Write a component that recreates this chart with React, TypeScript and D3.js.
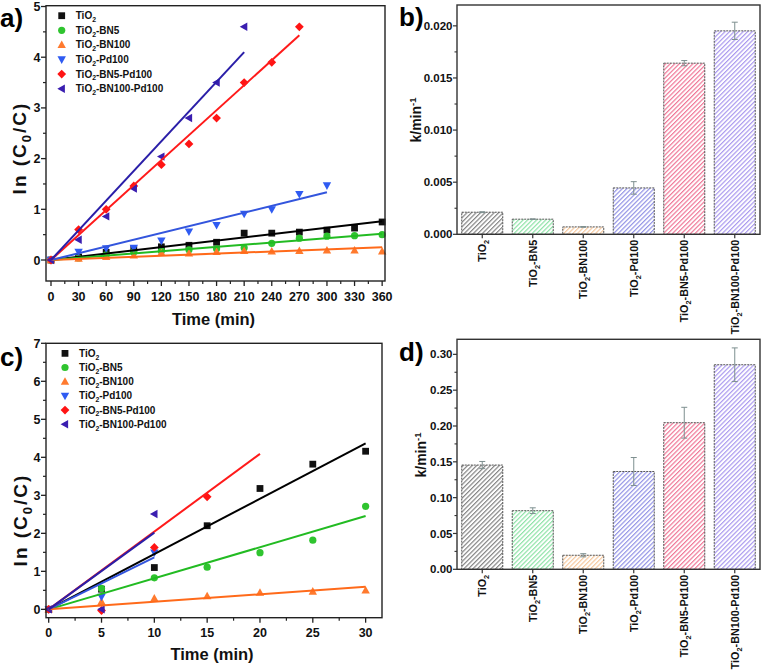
import React from 'react';
import * as d3 from 'd3';

const FONT = "'Liberation Sans', Arial, Helvetica, sans-serif";

// ---------- series ----------
const seriesNames = ['TiO2', 'TiO2-BN5', 'TiO2-BN100', 'TiO2-Pd100', 'TiO2-BN5-Pd100', 'TiO2-BN100-Pd100'];
const markerColors = ['#111111', '#2fc42f', '#ff7a2e', '#2f5bf2', '#ff1414', '#3a1eb0'];
const lineColors = ['#000000', '#22bb22', '#ff6a1a', '#3355dd', '#ff1a1a', '#2a1ea8'];
const markerShapes = ['square', 'circle', 'triUp', 'triDown', 'diamond', 'triLeft'];
const hatchColors = ['#858585', '#8fe3a8', '#f6c9a0', '#9494e6', '#f07898', '#ab9aef'];

// ---------- panel a (time in min) ----------
const a_t_TiO2 = [0, 30, 60, 90, 120, 150, 180, 210, 240, 270, 300, 330, 360];
const a_y_TiO2 = [0, 0.06, 0.15, 0.22, 0.26, 0.29, 0.35, 0.53, 0.53, 0.55, 0.59, 0.63, 0.75];
const a_t_BN5 = [0, 30, 60, 90, 120, 150, 180, 210, 240, 270, 300, 330, 360];
const a_y_BN5 = [0, 0.04, 0.1, 0.16, 0.18, 0.2, 0.22, 0.24, 0.33, 0.43, 0.47, 0.48, 0.5];
const a_t_BN100 = [0, 30, 60, 90, 120, 150, 180, 210, 240, 270, 300, 330, 360];
const a_y_BN100 = [0, 0.03, 0.06, 0.09, 0.14, 0.13, 0.16, 0.18, 0.17, 0.18, 0.19, 0.19, 0.17];
const a_t_Pd100 = [0, 30, 60, 90, 120, 150, 180, 210, 240, 270, 300];
const a_y_Pd100 = [0, 0.16, 0.23, 0.24, 0.38, 0.56, 0.69, 0.91, 1.0, 1.3, 1.47];
const a_t_BN5Pd100 = [0, 30, 60, 90, 120, 150, 180, 210, 240, 270];
const a_y_BN5Pd100 = [0, 0.6, 1.0, 1.46, 1.88, 2.29, 2.8, 3.5, 3.9, 4.6];
const a_t_BN100Pd100 = [0, 30, 60, 90, 120, 150, 180, 210];
const a_y_BN100Pd100 = [0, 0.4, 0.86, 1.41, 2.04, 2.8, 3.5, 4.6];
const a_fitEnd = [360, 360, 360, 300, 270, 210];
const a_slope = [0.00212, 0.00144, 0.0007, 0.00445, 0.01642, 0.01952];
const a_xTicks = [0, 30, 60, 90, 120, 150, 180, 210, 240, 270, 300, 330, 360];
const a_yTicks = [0, 1, 2, 3, 4, 5];

// ---------- panel c ----------
const c_t_TiO2 = [0, 5, 10, 15, 20, 25, 30];
const c_y_TiO2 = [0, 0.53, 1.1, 2.2, 3.18, 3.82, 4.16];
const c_t_BN5 = [0, 5, 10, 15, 20, 25, 30];
const c_y_BN5 = [0, 0.55, 0.83, 1.11, 1.49, 1.82, 2.71];
const c_t_BN100 = [0, 5, 10, 15, 20, 25, 30];
const c_y_BN100 = [0, 0.2, 0.29, 0.35, 0.44, 0.47, 0.5];
const c_t_Pd100 = [0, 5, 10];
const c_y_Pd100 = [0, 0.33, 1.49];
const c_t_BN5Pd100 = [0, 5, 10, 15];
const c_y_BN5Pd100 = [0, -0.03, 1.63, 2.96];
const c_t_BN100Pd100 = [0, 5, 10];
const c_y_BN100Pd100 = [0, 0.0, 2.51];
const c_fitEnd = [30, 30, 30, 10, 20, 10];
const c_slope = [0.1455, 0.0818, 0.0198, 0.1365, 0.2046, 0.202];
const c_xTicks = [0, 5, 10, 15, 20, 25, 30];
const c_yTicks = [0, 1, 2, 3, 4, 5, 6, 7];

// ---------- panel b / d ----------
const b_k = [0.00212, 0.00145, 0.00071, 0.00445, 0.01642, 0.01952];
const b_err = [0.00004, 0.00003, 0.00003, 0.0006, 0.00025, 0.00083];
const b_yTicks = [0, 0.005, 0.01, 0.015, 0.02];
const d_k = [0.1455, 0.0818, 0.0196, 0.1365, 0.2046, 0.2855];
const d_err = [0.005, 0.004, 0.0022, 0.0195, 0.0215, 0.0235];
const d_yTicks = [0, 0.05, 0.1, 0.15, 0.2, 0.25, 0.3];

const aSeries = [
  [a_t_TiO2, a_y_TiO2], [a_t_BN5, a_y_BN5], [a_t_BN100, a_y_BN100],
  [a_t_Pd100, a_y_Pd100], [a_t_BN5Pd100, a_y_BN5Pd100], [a_t_BN100Pd100, a_y_BN100Pd100],
];
const cSeries = [
  [c_t_TiO2, c_y_TiO2], [c_t_BN5, c_y_BN5], [c_t_BN100, c_y_BN100],
  [c_t_Pd100, c_y_Pd100], [c_t_BN5Pd100, c_y_BN5Pd100], [c_t_BN100Pd100, c_y_BN100Pd100],
];

function symbolPath(shape: string, x: number, y: number): string {
  switch (shape) {
    case 'square': { const s = 3.4; return `M${x - s},${y - s}h${2 * s}v${2 * s}h${-2 * s}Z`; }
    case 'triUp': { const s = 4.2; return `M${x},${y - s * 1.05}L${x + s},${y + s * 0.75}L${x - s},${y + s * 0.75}Z`; }
    case 'triDown': { const s = 4.2; return `M${x},${y + s * 1.05}L${x + s},${y - s * 0.75}L${x - s},${y - s * 0.75}Z`; }
    case 'diamond': { const s = 4.4; return `M${x},${y - s}L${x + s},${y}L${x},${y + s}L${x - s},${y}Z`; }
    case 'triLeft': { const s = 4.2; return `M${x - s * 1.05},${y}L${x + s * 0.75},${y - s}L${x + s * 0.75},${y + s}Z`; }
    default: return '';
  }
}

function Marker({ shape, x, y, color }: any) {
  if (shape === 'circle') return <circle cx={x} cy={y} r={3.6} fill={color} />;
  return <path d={symbolPath(shape, x, y)} fill={color} />;
}

function Tio2Label({ name, size }: any) {
  const rest = name.slice(4);
  return (
    <>
      <tspan>TiO</tspan>
      <tspan fontSize={size * 0.68} dy={size * 0.28}>2</tspan>
      <tspan dy={-size * 0.28}>{rest}</tspan>
    </>
  );
}

function midpoints(arr: number[]) {
  const out: number[] = [];
  for (let i = 0; i < arr.length - 1; i++) out.push((arr[i] + arr[i + 1]) / 2);
  return out;
}

function LinePanel({ cfg }: any) {
  const x = d3.scaleLinear().domain(cfg.xDomain).range([cfg.left, cfg.right]);
  const y = d3.scaleLinear().domain(cfg.yDomain).range([cfg.bottom, cfg.top]);
  const line = d3.line<[number, number]>().x(d => x(d[0])).y(d => y(d[1]));
  const xMinor = midpoints(cfg.xTicks);
  const yMinor = midpoints(cfg.yTicks).concat([cfg.yTicks[cfg.yTicks.length - 1] + 0.5]).filter(v => v <= cfg.yDomain[1]);
  const axisColor = '#222';
  return (
    <g>
      {cfg.series.map((s: any, i: number) => (
        <g key={'m' + i}>
          {s[0].map((t: number, j: number) => (
            <Marker key={j} shape={markerShapes[i]} x={x(t)} y={y(s[1][j])} color={markerColors[i]} />
          ))}
        </g>
      ))}
      {cfg.slopes.map((k: number, i: number) => (
        <path key={'l' + i} d={line([[0, 0], [cfg.fitEnd[i], k * cfg.fitEnd[i]]]) || ''} stroke={lineColors[i]} strokeWidth={2} fill="none" />
      ))}
      <rect x={cfg.left} y={cfg.top} width={cfg.right - cfg.left} height={cfg.bottom - cfg.top} fill="none" stroke={axisColor} strokeWidth={1.4} />
      {cfg.xTicks.map((t: number) => (
        <g key={'xt' + t}>
          <line x1={x(t)} x2={x(t)} y1={cfg.bottom} y2={cfg.bottom + 5} stroke={axisColor} strokeWidth={1.3} />
          <text x={x(t)} y={cfg.bottom + 19.5} textAnchor="middle" fontSize={12.5} fontWeight="bold" fontFamily={FONT} fill="#111">{t}</text>
        </g>
      ))}
      {xMinor.map((t: number) => (
        <line key={'xm' + t} x1={x(t)} x2={x(t)} y1={cfg.bottom} y2={cfg.bottom + 3} stroke={axisColor} strokeWidth={1.2} />
      ))}
      {cfg.yTicks.map((v: number) => (
        <g key={'yt' + v}>
          <line x1={cfg.left} x2={cfg.left - 5} y1={y(v)} y2={y(v)} stroke={axisColor} strokeWidth={1.3} />
          <text x={cfg.left - 5.5} y={y(v)} dy="0.36em" textAnchor="end" fontSize={12.5} fontWeight="bold" fontFamily={FONT} fill="#111">{v}</text>
        </g>
      ))}
      {yMinor.map((v: number) => (
        <line key={'ym' + v} x1={cfg.left} x2={cfg.left - 3} y1={y(v)} y2={y(v)} stroke={axisColor} strokeWidth={1.2} />
      ))}
      <text x={(cfg.left + cfg.right) / 2 - 2} y={cfg.xTitleY} textAnchor="middle" fontSize={16.5} fontWeight="bold" fontFamily={FONT} fill="#111">Time (min)</text>
      <text transform={`translate(${cfg.yTitleX},${cfg.yTitleY}) rotate(-90)`} textAnchor="middle" fontSize={19} fontWeight="bold" fontFamily={FONT} fill="#111" letterSpacing={2}>
        <tspan>ln (C</tspan>
        <tspan fontSize={13} dy={5}>0</tspan>
        <tspan dy={-5}>/C)</tspan>
      </text>
      {seriesNames.map((n, i) => (
        <g key={'lg' + i}>
          <Marker shape={markerShapes[i]} x={cfg.legX} y={cfg.legY + i * cfg.legDy} color={markerColors[i]} />
          <text x={cfg.legX + 14} y={cfg.legY + i * cfg.legDy} dy="0.35em" fontSize={10} fontWeight="bold" fontFamily={FONT} fill="#111">
            <Tio2Label name={n} size={10} />
          </text>
        </g>
      ))}
      <text x={cfg.labelX} y={cfg.labelY} fontSize={26} fontWeight="bold" fontFamily={FONT} fill="#000">{cfg.label}</text>
    </g>
  );
}

function BarPanel({ cfg }: any) {
  const x = d3.scaleBand<string>().domain(seriesNames).range([cfg.left, cfg.right]).paddingInner(0.188).paddingOuter(0.094);
  const y = d3.scaleLinear().domain(cfg.yDomain).range([cfg.bottom, cfg.top]);
  const axisColor = '#333';
  const yMinor = midpoints(cfg.yTicks).filter((v: number) => v <= cfg.yDomain[1]);
  return (
    <g>
      {seriesNames.map((n, i) => {
        const x0 = x(n) as number;
        const w = x.bandwidth();
        const cx = x0 + w / 2;
        return (
          <g key={n}>
            <rect x={x0} y={y(cfg.k[i])} width={w} height={cfg.bottom - y(cfg.k[i])} fill={`url(#hatch${i})`} stroke="#555" strokeWidth={1} strokeDasharray="2,1" />
            <line x1={cx} x2={cx} y1={y(cfg.k[i] - cfg.err[i])} y2={y(cfg.k[i] + cfg.err[i])} stroke="#7d8f8f" strokeWidth={1} />
            <line x1={cx - 3} x2={cx + 3} y1={y(cfg.k[i] + cfg.err[i])} y2={y(cfg.k[i] + cfg.err[i])} stroke="#7d8f8f" strokeWidth={1} />
            <line x1={cx - 3} x2={cx + 3} y1={y(cfg.k[i] - cfg.err[i])} y2={y(cfg.k[i] - cfg.err[i])} stroke="#7d8f8f" strokeWidth={1} />
            <line x1={cx} x2={cx} y1={cfg.bottom} y2={cfg.bottom + 4} stroke={axisColor} strokeWidth={1.2} />
            <text transform={`translate(${cx + 4},${cfg.bottom + 5.5}) rotate(-90)`} textAnchor="end" fontSize={10.8} fontWeight="bold" fontFamily={FONT} fill="#111">
              <Tio2Label name={n} size={10.8} />
            </text>
          </g>
        );
      })}
      <rect x={cfg.left} y={cfg.top} width={cfg.right - cfg.left} height={cfg.bottom - cfg.top} fill="none" stroke={axisColor} strokeWidth={1.4} />
      {cfg.yTicks.map((v: number) => (
        <g key={'yt' + v}>
          <line x1={cfg.left} x2={cfg.left - 4} y1={y(v)} y2={y(v)} stroke={axisColor} strokeWidth={1.2} />
          <text x={cfg.left - 4.5} y={y(v)} dy="0.36em" textAnchor="end" fontSize={11.5} fontWeight="bold" fontFamily={FONT} fill="#111">{d3.format(cfg.fmt)(v)}</text>
        </g>
      ))}
      {yMinor.map((v: number) => (
        <line key={'ym' + v} x1={cfg.left} x2={cfg.left - 2.5} y1={y(v)} y2={y(v)} stroke={axisColor} strokeWidth={1.1} />
      ))}
      <text transform={`translate(${cfg.yTitleX},${cfg.yTitleY}) rotate(-90)`} textAnchor="middle" fontSize={14} fontWeight="bold" fontFamily={FONT} fill="#111">
        <tspan>k/min</tspan>
        <tspan fontSize={9.5} dy={-5}>-1</tspan>
      </text>
      <text x={cfg.labelX} y={cfg.labelY} fontSize={26} fontWeight="bold" fontFamily={FONT} fill="#000">{cfg.label}</text>
    </g>
  );
}

export default function App() {
  const cfgA = {
    left: 46, right: 385, top: 5.7, bottom: 281,
    xDomain: [-5.43, 363.1], yDomain: [-0.414, 5.016],
    xTicks: a_xTicks, yTicks: a_yTicks,
    series: aSeries, slopes: a_slope, fitEnd: a_fitEnd,
    xTitleY: 325, yTitleX: 26, yTitleY: 148,
    legX: 61.7, legY: 15.7, legDy: 14.6,
    label: 'a)', labelX: 0, labelY: 27,
  };
  const cfgC = {
    left: 46, right: 382, top: 343.3, bottom: 617.7,
    xDomain: [-0.255, 31.55], yDomain: [-0.22, 7],
    xTicks: c_xTicks, yTicks: c_yTicks,
    series: cSeries, slopes: c_slope, fitEnd: c_fitEnd,
    xTitleY: 660, yTitleX: 27, yTitleY: 520,
    legX: 65, legY: 353.3, legDy: 14.2,
    label: 'c)', labelX: 0, labelY: 366,
  };
  const cfgB = {
    left: 457, right: 760, top: 5, bottom: 234.3,
    yDomain: [0, 0.022], yTicks: b_yTicks, fmt: '.3f',
    k: b_k, err: b_err,
    yTitleX: 421, yTitleY: 120,
    label: 'b)', labelX: 399, labelY: 26,
  };
  const cfgD = {
    left: 457, right: 760, top: 339.3, bottom: 569.3,
    yDomain: [0, 0.321], yTicks: d_yTicks, fmt: '.2f',
    k: d_k, err: d_err,
    yTitleX: 426, yTitleY: 455,
    label: 'd)', labelX: 399, labelY: 361,
  };
  return (
    <svg width={763} height={671} style={{ position: 'absolute', left: 0, top: 0, background: '#fff' }}>
      <defs>
        {hatchColors.map((c, i) => (
          <pattern key={i} id={`hatch${i}`} patternUnits="userSpaceOnUse" width={3.2} height={3.2} patternTransform="rotate(45)">
            <rect width={3.2} height={3.2} fill="#fff" />
            <line x1={0.6} y1={0} x2={0.6} y2={3.2} stroke={c} strokeWidth={1.2} />
          </pattern>
        ))}
      </defs>
      <rect width={763} height={671} fill="#fff" />
      <LinePanel cfg={cfgA} />
      <BarPanel cfg={cfgB} />
      <LinePanel cfg={cfgC} />
      <BarPanel cfg={cfgD} />
    </svg>
  );
}
